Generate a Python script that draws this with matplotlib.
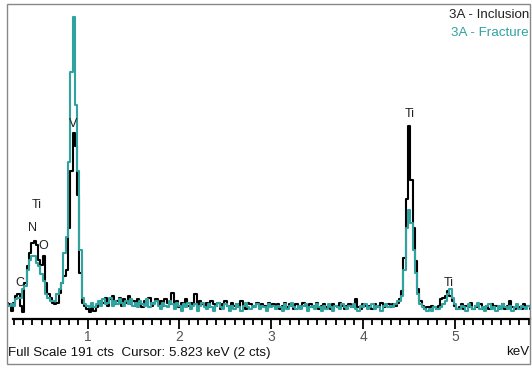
import numpy as np
import matplotlib.pyplot as plt
from matplotlib.patches import Rectangle
from matplotlib.ticker import FixedLocator

plt.rcParams['font.family'] = ['Liberation Sans', 'DejaVu Sans']

# spectrum channels: first channel energy and width (keV)
start_kev = 0.125
chan_kev = 0.025

inclusion = [
    10, 9, 5, 10, 14, 15, 8, 4, 22, 32,
    40, 46, 47, 45, 36, 33, 38, 22, 15, 13,
    10, 9, 10, 16, 22, 26, 30, 55, 90, 113,
    105, 75, 28, 10, 8, 6, 4, 7,
    5, 7, 9, 11, 10, 13, 8, 12, 14, 9,
    11, 13, 8, 12, 10, 14, 9, 11, 8, 12,
    10, 7, 11, 9, 13, 8, 10, 12, 9, 11,
    8, 12, 10, 9, 16, 8, 11, 7, 10, 9,
    12, 8, 10, 9, 15, 7, 11, 9, 8, 10,
    7, 11, 9, 8, 10, 6, 9, 11, 8, 7,
    10, 8, 9, 7, 11, 8, 6, 10, 9, 7,
    8, 10, 7, 9, 8, 6, 10, 8, 9, 7,
    9, 6, 8, 10, 7, 9, 8, 6, 9, 8,
    7, 10, 8, 6, 9, 7, 8, 10, 6, 8,
    9, 7, 8, 6, 9, 8, 7, 10, 8, 6,
    8, 9, 7, 8, 12, 7, 6, 9, 8, 7,
    8, 6, 9, 7, 8, 10, 7, 8, 9, 7,
    9, 8, 10,
    12, 17, 37, 73, 117, 84, 55, 35, 18, 11, 8, 6,
    7, 7, 8, 7, 6,
    8, 12, 13, 14, 17, 14, 11, 8, 6,
    7, 9, 6, 8, 7, 10, 6, 8, 7, 9, 6, 7, 8, 6, 9, 7,
    8, 6, 7, 9, 6, 8, 11, 7, 6, 8, 7, 6, 9, 7, 8, 6,
]

fracture = [
    9, 8, 9, 8, 12, 13, 13, 18, 20, 30,
    36, 38, 38, 34, 32, 27, 23, 15, 13, 11,
    11, 11, 15, 18, 22, 40, 50, 95, 150, 183,
    130, 90, 42, 13, 9, 8, 7, 10,
    7, 9, 11, 8, 12, 9, 10, 13, 8, 11,
    9, 12, 10, 8, 11, 9, 12, 8, 10, 7,
    11, 9, 8, 12, 7, 10, 9, 11, 8, 6,
    10, 8, 7, 11, 9, 6, 10, 8, 5, 9,
    7, 10, 6, 8, 9, 5, 8, 10, 7, 6,
    9, 7, 5, 8, 10, 7, 6, 9, 8, 5,
    8, 6, 9, 7, 5, 8, 10, 7, 6, 8,
    7, 9, 6, 8, 7, 5, 9, 7, 8, 6,
    8, 7, 5, 9, 6, 8, 10, 7, 6, 8,
    6, 8, 9, 5, 7, 8, 6, 9, 7, 5,
    8, 6, 9, 7, 5, 8, 7, 6, 9, 7,
    6, 8, 7, 9, 6, 5, 8, 7, 9, 6,
    7, 9, 6, 8, 7, 5, 8, 9, 7, 8,
    7, 9, 11,
    11, 14, 30, 55, 66, 58, 42, 28, 15, 9, 7, 6,
    5, 6, 5, 7, 6,
    6, 7, 9, 11, 15, 18, 13, 9, 6,
    6, 8, 7, 5, 9, 7, 6, 8, 10, 6, 7, 5, 8, 9, 6, 7,
    5, 8, 6, 9, 7, 6, 8, 5, 7, 9, 6, 8, 7, 6, 8, 7,
]

peak_labels = ['C', 'N', 'Ti', 'O', 'V', 'Ti', 'Ti']
peak_kev = [0.265, 0.40, 0.45, 0.52, 0.84, 4.51, 4.93]
peak_cts = [22, 55, 69, 44, 118, 124, 22]

full_scale = 191
x_min, x_max = 0.124, 5.815

energy = start_kev + chan_kev * np.arange(len(inclusion))

fig = plt.figure(figsize=(5.32, 3.67), dpi=100)
ax = fig.add_axes([7/532, 48/367, 523/532, 315/367])

ax.step(energy, inclusion, where='mid', color='black', lw=1.5)
ax.step(energy, fracture, where='mid', color='#2fa3a0', lw=1.5)

ax.set_xlim(x_min, x_max)
ax.set_ylim(0, full_scale)

for s in ['top', 'left', 'right']:
    ax.spines[s].set_visible(False)
ax.spines['bottom'].set_bounds(0.19, x_max)
ax.spines['bottom'].set_linewidth(1.6)
ax.set_yticks([])
ax.xaxis.set_major_locator(FixedLocator([1, 2, 3, 4, 5]))
ax.xaxis.set_minor_locator(FixedLocator(np.arange(0.2, 5.85, 0.1)))
ax.tick_params(axis='x', which='major', length=7, width=1.3, pad=1,
               labelsize=10, labelcolor='#555555')
ax.tick_params(axis='x', which='minor', length=4, width=1.3)

for lab, e, c in zip(peak_labels, peak_kev, peak_cts):
    ax.text(e, c, lab, ha='center', va='center', fontsize=9, color='#222222')

ax.text(0.998, 0.965, '3A - Inclusion', transform=ax.transAxes, fontsize=9.6,
        color='#222222', va='center', ha='right')
ax.text(0.998, 0.908, '3A - Fracture', transform=ax.transAxes, fontsize=9.6,
        color='#2fa3a0', va='center', ha='right')

fig.text(8/532, 1 - 353/367, 'Full Scale 191 cts  Cursor: 5.823 keV (2 cts)',
         fontsize=9.6, va='center', ha='left', color='#111111')
fig.text(529/532, 1 - 352/367, 'keV', fontsize=9.6, va='center', ha='right',
         color='#111111')

fig.patches.append(Rectangle((7/532, 3/367), 523/532, 360/367,
                             transform=fig.transFigure, fill=False,
                             edgecolor='#888888', lw=1.0))

fig.savefig('out.png', dpi=100)
